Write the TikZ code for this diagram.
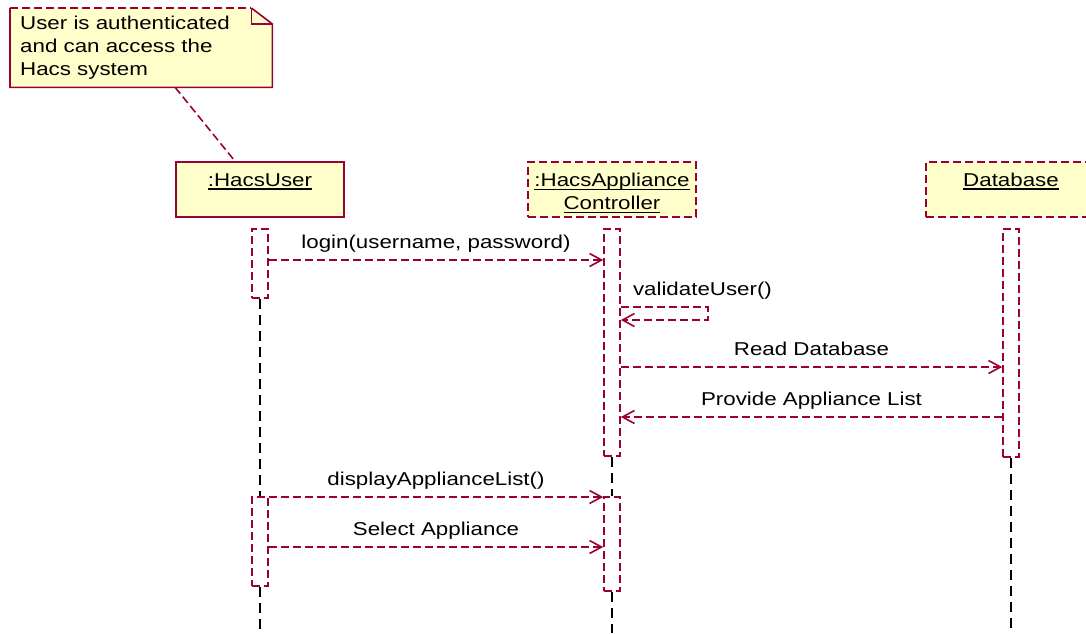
\documentclass[tikz,border=0pt]{standalone}
\usepackage{fontspec}
\setmainfont{Liberation Sans}[FakeStretch=1.2]
\usetikzlibrary{positioning, arrows.meta, backgrounds}

\definecolor{umlred}{HTML}{990033}
\definecolor{umlnote}{HTML}{FFFFCC}

\newcommand{\objname}[1]{\setbox0=\hbox{#1}\rlap{\rule[-3.5pt]{\wd0}{1.5pt}}\box0}

\begin{document}
\begin{tikzpicture}[x=1pt,y=-1pt,font=\fontsize{18.6}{23}\selectfont]
  \tikzset{ObjStyle/.style = {
    shape          = rectangle,
    draw           = umlred,
    fill           = umlnote,
    line width     = 1.6pt,
    minimum width  = 168pt,
    minimum height = 55pt,
    inner sep      = 0pt
    }
  }
  \tikzset{BarStyle/.style = {
    shape          = rectangle,
    draw           = umlred,
    fill           = white,
    line width     = 1.6pt,
    dash pattern   = on 8pt off 4pt,
    minimum width  = 16pt,
    inner sep      = 0pt
    }
  }
  \tikzset{NoteStyle/.style = {
    anchor         = north west,
    minimum width  = 262pt,
    minimum height = 79pt,
    text width     = 242pt,
    align          = left,
    inner sep      = 0pt
    }
  }
  \tikzset{MsgStyle/.style = {
    draw           = umlred,
    line width     = 1.6pt,
    dash pattern   = on 8pt off 4pt,
    -{Straight Barb[length=12pt,width=13pt]}
    }
  }
  \tikzset{MsgLabel/.style = {
    anchor         = base,
    yshift         = 12pt,
    inner sep      = 0pt,
    text           = black
    }
  }
  \tikzset{LifeLine/.style = {
    draw           = black,
    line width     = 1.6pt,
    dash pattern   = on 10pt off 6pt
    }
  }

  \useasboundingbox (0,0) rectangle (1086,633);

  % note
  \node[NoteStyle](N1) at (10,8) {User is authenticated\\and can access the\\Hacs system};
  \begin{scope}[on background layer]
    \fill[white] (0,0) rectangle (1086,633);
    \fill[umlnote] (N1.north west) -- ([xshift=-21pt]N1.north east) -- ([yshift=-16pt]N1.north east)
      -- (N1.south east) -- (N1.south west) -- cycle;
  \end{scope}
  \draw[umlred, line width=1.6pt, dash pattern=on 8pt off 4pt] (N1.north west) -- ([xshift=-21pt]N1.north east);
  \draw[umlred, line width=1.6pt] ([xshift=-21pt]N1.north east) -- ([yshift=-16pt]N1.north east)
    -- (N1.south east) -- (N1.south west) -- (N1.north west);
  \draw[umlred, line width=1.6pt] ([xshift=-21pt]N1.north east) |- ([yshift=-16pt]N1.north east);

  % objects
  \node[ObjStyle](U0) at (260,189.5) {};
  \node[ObjStyle, dash pattern=on 8pt off 4pt](C0) at (612,189.5) {};
  \node[ObjStyle, dash pattern=on 8pt off 4pt, minimum width=170pt](D0) at (1011,189.5) {};
  \node[anchor=base, inner sep=0pt](U0t) at ([yshift=-25pt]U0.north) {\objname{:HacsUser}};
  \node[anchor=base, inner sep=0pt, align=center](C0t) at ([yshift=-48.5pt]C0.north) {\objname{:HacsAppliance}\\\objname{Controller}};
  \node[anchor=base, inner sep=0pt](D0t) at ([yshift=-25pt]D0.north) {\objname{Database}};
  \draw[umlred, line width=1.6pt, dash pattern=on 8pt off 4pt] ([xshift=34pt]N1.south) -- ([xshift=-25pt]U0.north);

  % activations
  \node[BarStyle, minimum height=69pt](U1) at (260,263.5) {};
  \node[BarStyle, minimum height=89pt](U2) at (260,541.5) {};
  \node[BarStyle, minimum height=227pt](C1) at (612,342.5) {};
  \node[BarStyle, minimum height=94pt](C2) at (612,544) {};
  \node[BarStyle, minimum height=228pt](D1) at (1011,343) {};
  \coordinate (U9) at (260,633);
  \coordinate (C9) at (612,633);
  \coordinate (D9) at (1011,633);
  \draw[LifeLine](U1.south) -- (U2.north);
  \draw[LifeLine](U2.south) -- (U9);
  \draw[LifeLine](C1.south) -- (C2.north);
  \draw[LifeLine](C2.south) -- (C9);
  \draw[LifeLine](D1.south) -- (D9);

  % messages
  \coordinate (V1) at (708,307);
  \coordinate (V2) at (708,320);
  \draw[MsgStyle](U1.east |- 0,260) to node[MsgLabel]{login(username, password)} (C1.west |- 0,260);
  \node[MsgLabel, anchor=base west, xshift=12pt](V0) at (C1.east |- V1) {validateUser()};
  \draw[MsgStyle](C1.east |- V1) -- (V1) -- (V2) -- (C1.east |- V2);
  \draw[MsgStyle](C1.east |- 0,367) to node[MsgLabel]{Read Database} (D1.west |- 0,367);
  \draw[MsgStyle](D1.west |- 0,417) to node[MsgLabel]{Provide Appliance List} (C1.east |- 0,417);
  \draw[MsgStyle](U2.east |- 0,497) to node[MsgLabel]{displayApplianceList()} (C2.west |- 0,497);
  \draw[MsgStyle](U2.east |- 0,547) to node[MsgLabel]{Select Appliance} (C2.west |- 0,547);
\end{tikzpicture}
\end{document}
